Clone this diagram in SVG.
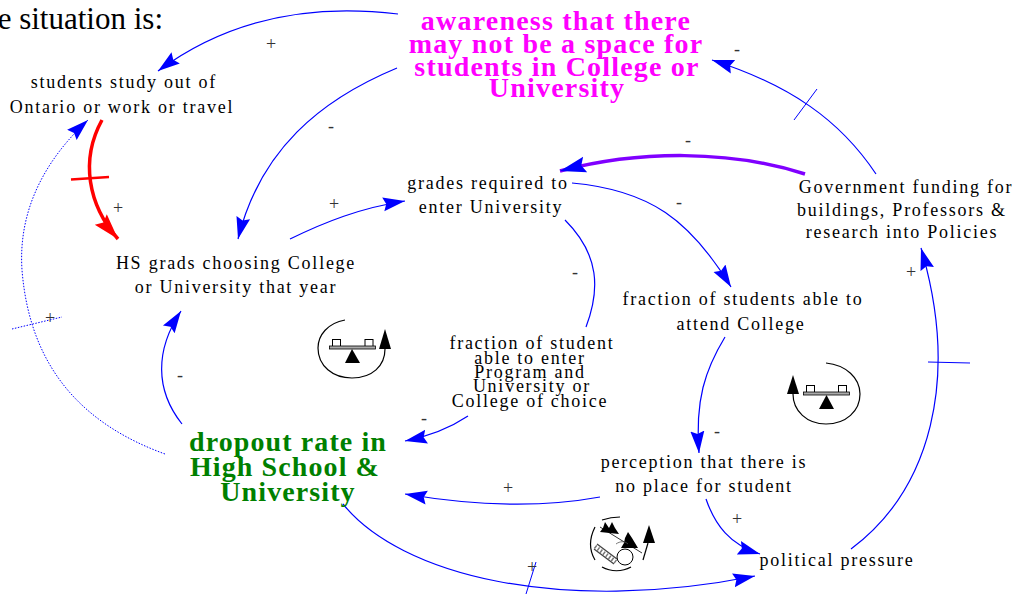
<svg xmlns="http://www.w3.org/2000/svg" width="1024" height="594" viewBox="0 0 1024 594">
<style>
text{font-family:"Liberation Serif","Times New Roman",serif;text-anchor:middle;fill:#000}
.n{font-size:18px;letter-spacing:1.75px}
.p{font-size:18px;fill:#333}
.c{fill:none;stroke:#0000ff;stroke-width:1.2}
.t{stroke:#0000ff;stroke-width:1;fill:none}
.k{fill:none;stroke:#000;stroke-width:1.2}
.f{fill:#000}
.o{fill:#fff;stroke:#000;stroke-width:1}
.bar{fill:#aaa;stroke:#000;stroke-width:.8}
.g{font-size:28px;font-weight:bold;fill:#008000;letter-spacing:1.1px}
.w{font-size:28px;font-weight:bold;fill:#ff00ff;letter-spacing:1.2px}
</style>
<defs>
<marker id="b" markerUnits="userSpaceOnUse" markerWidth="24" markerHeight="16" refX="22" refY="8" orient="auto"><path d="M0 1 L22 8 L0 15 L3 8 Z" fill="#0000ff"/></marker>
<marker id="r" markerUnits="userSpaceOnUse" markerWidth="28" markerHeight="20" refX="26" refY="10" orient="auto"><path d="M0 2 L26 10 L0 18 L4 10 Z" fill="#ff0000"/></marker>
<marker id="v" markerUnits="userSpaceOnUse" markerWidth="28" markerHeight="20" refX="26" refY="10" orient="auto"><path d="M0 2 L26 10 L0 18 L4 10 Z" fill="#0000ff"/></marker>
</defs>
<text x="163" y="29" style="font-size:31px;text-anchor:end">e situation is:</text>
<g id="connectors">
<path class="c" d="M398 14 C300 2 220 25 158 71" marker-end="url(#b)"/>
<path class="c" d="M397 68 C320 100 260 150 238 239" marker-end="url(#b)"/>
<path d="M102 120 C80 160 88 205 118 239" fill="none" stroke="#ff0000" stroke-width="3.5" marker-end="url(#r)"/>
<path d="M71 179.500 L109 177" stroke="#ff0000" stroke-width="2.500"/>
<path d="M165 454 C85 425 30 370 22 270 C18 210 45 160 88 120" fill="none" stroke="#0000ff" stroke-width="1" stroke-dasharray="1.5 1.5" marker-end="url(#b)"/>
<path d="M12 329 L62 317" stroke="#0000ff" stroke-width="1" stroke-dasharray="1.5 1.5"/>
<path class="c" d="M290 239 C325 222 360 208 405 201" marker-end="url(#b)"/>
<path class="c" d="M182 424 C155 390 155 350 181 311" marker-end="url(#b)"/>
<path d="M805 174 C730 150 640 150 560 171" fill="none" stroke="#8000ff" stroke-width="3.5" marker-end="url(#v)"/>
<path class="c" d="M876 174 C840 120 790 85 712 60" marker-end="url(#b)"/>
<path class="t" d="M794 120 L817 89"/>
<path class="c" d="M572 183 C650 190 690 220 731 287" marker-end="url(#b)"/>
<path class="c" d="M565 220 C600 255 600 290 586 327"/>
<path class="c" d="M468 416 C450 428 430 436 405 441" marker-end="url(#b)"/>
<path class="c" d="M725 337 C705 370 695 400 699 453" marker-end="url(#b)"/>
<path class="c" d="M600 497 C540 508 470 505 405 494" marker-end="url(#b)"/>
<path class="c" d="M706 499 C715 525 730 545 760 554" marker-end="url(#b)"/>
<path class="c" d="M851 549 C930 490 960 380 921 248" marker-end="url(#b)"/>
<path class="t" d="M928 362 L970 363"/>
<path class="c" d="M343 504 C400 575 560 615 755 576" marker-end="url(#b)"/>
<path class="t" d="M526 594 L536 562"/>
</g>
<g id="awareness">
<text class="w" x="556" y="30">awareness that there</text>
<text class="w" x="556" y="53">may not be a space for</text>
<text class="w" x="557" y="76">students in College or</text>
<text class="w" x="557" y="97">University</text>
</g>
<g id="study"><text class="n" x="124" y="88">students study out of</text><text class="n" x="122" y="113">Ontario or work or travel</text></g>
<g id="grades"><text class="n" x="488" y="189">grades required to</text><text class="n" x="491" y="213">enter University</text></g>
<g id="funding"><text class="n" x="906" y="193">Government funding for</text><text class="n" x="902" y="216">buildings, Professors &amp;</text><text class="n" x="902" y="238">research into Policies</text></g>
<g id="hsgrads"><text class="n" x="236" y="269">HS grads choosing College</text><text class="n" x="236" y="293">or University that year</text></g>
<g id="attend"><text class="n" x="743" y="305">fraction of students able to</text><text class="n" x="741" y="330">attend College</text></g>
<g id="choice"><text class="n" x="532" y="349">fraction of student</text><text class="n" x="530" y="364">able to enter</text><text class="n" x="530" y="378">Program and</text><text class="n" x="532" y="392">University or</text><text class="n" x="530" y="407">College of choice</text></g>
<g id="dropout"><text class="g" x="288" y="451">dropout rate in</text><text class="g" x="285" y="476">High School &amp;</text><text class="g" x="288" y="501">University</text></g>
<g id="perception"><text class="n" x="704" y="468">perception that there is</text><text class="n" x="704" y="492">no place for student</text></g>
<g id="political"><text class="n" x="837" y="566">political pressure</text></g>
<g id="signs">
<text class="p" x="271" y="50">+</text><text class="p" x="331" y="132">-</text><text class="p" x="118" y="214">+</text><text class="p" x="50" y="324">+</text><text class="p" x="334" y="210">+</text><text class="p" x="180" y="381">-</text><text class="p" x="688" y="146">-</text><text class="p" x="737" y="55">-</text><text class="p" x="679" y="208">-</text><text class="p" x="575" y="278">-</text><text class="p" x="424" y="424">-</text><text class="p" x="717" y="437">-</text><text class="p" x="508" y="494">+</text><text class="p" x="737" y="525">+</text><text class="p" x="911" y="278">+</text><text class="p" x="532" y="573">+</text>
</g>
<g id="balance-left">
<path class="k" d="M345 320 C328 323 318 335 318 348 C318 366 333 378 352 378 C372 378 385 366 385 349"/>
<rect class="o" x="332.500" y="339.500" width="8" height="7"/><rect class="o" x="365" y="339.500" width="8" height="7"/>
<rect class="bar" x="329.500" y="346" width="46" height="3"/>
<path class="f" d="M352 349 L360 363 L345 363 Z"/>
<path class="f" d="M385 329 L391 349 L379 349 Z"/>
</g>
<g id="balance-right">
<path class="k" d="M826 363 C846 365 860 378 860 394 C860 411 846 424 826 424 C807 424 793 411 793 394"/>
<rect class="o" x="806.500" y="385.500" width="8" height="7"/><rect class="o" x="838.500" y="385.500" width="8" height="7"/>
<rect class="bar" x="803.500" y="392" width="46" height="3"/>
<path class="f" d="M826.500 395 L834 409 L819 409 Z"/>
<path class="f" d="M793 375 L799 394 L787 394 Z"/>
</g>
<g id="growth-icon">
<path class="k" d="M602 520 C608 518 614 517 620 517"/>
<path class="k" d="M595 527 C589 539 589 550 595 560"/>
<path class="k" d="M602 567 C611 572 622 572 631 567"/>
<path class="k" d="M643 560 L648 543"/>
<path class="f" d="M649 525 L655 543 L643 543 Z"/>
<path d="M600 527 L642 553" stroke="#000" stroke-width=".8" fill="none"/>
<path class="f" d="M605 522 L609 528 L612 522 L615 528 L619 534 L600 532 L603 528 Z"/>
<path class="f" d="M628 532 L632 538 L635 543 L638 548 L621 548 L624 543 L625 538 Z"/>
<circle class="o" cx="625" cy="557" r="8"/>
<path d="M597 544 L617 559 M594 549 L614 564" stroke="#444" stroke-width="1.300" fill="none"/>
<path d="M595 546.500 L616 562" stroke="#777" stroke-width="4" stroke-dasharray="1.500 2" fill="none"/>
<path d="M616 544 C620 541 625 541 628 544" stroke="#555" stroke-width=".8" fill="none"/>
</g>
</svg>
